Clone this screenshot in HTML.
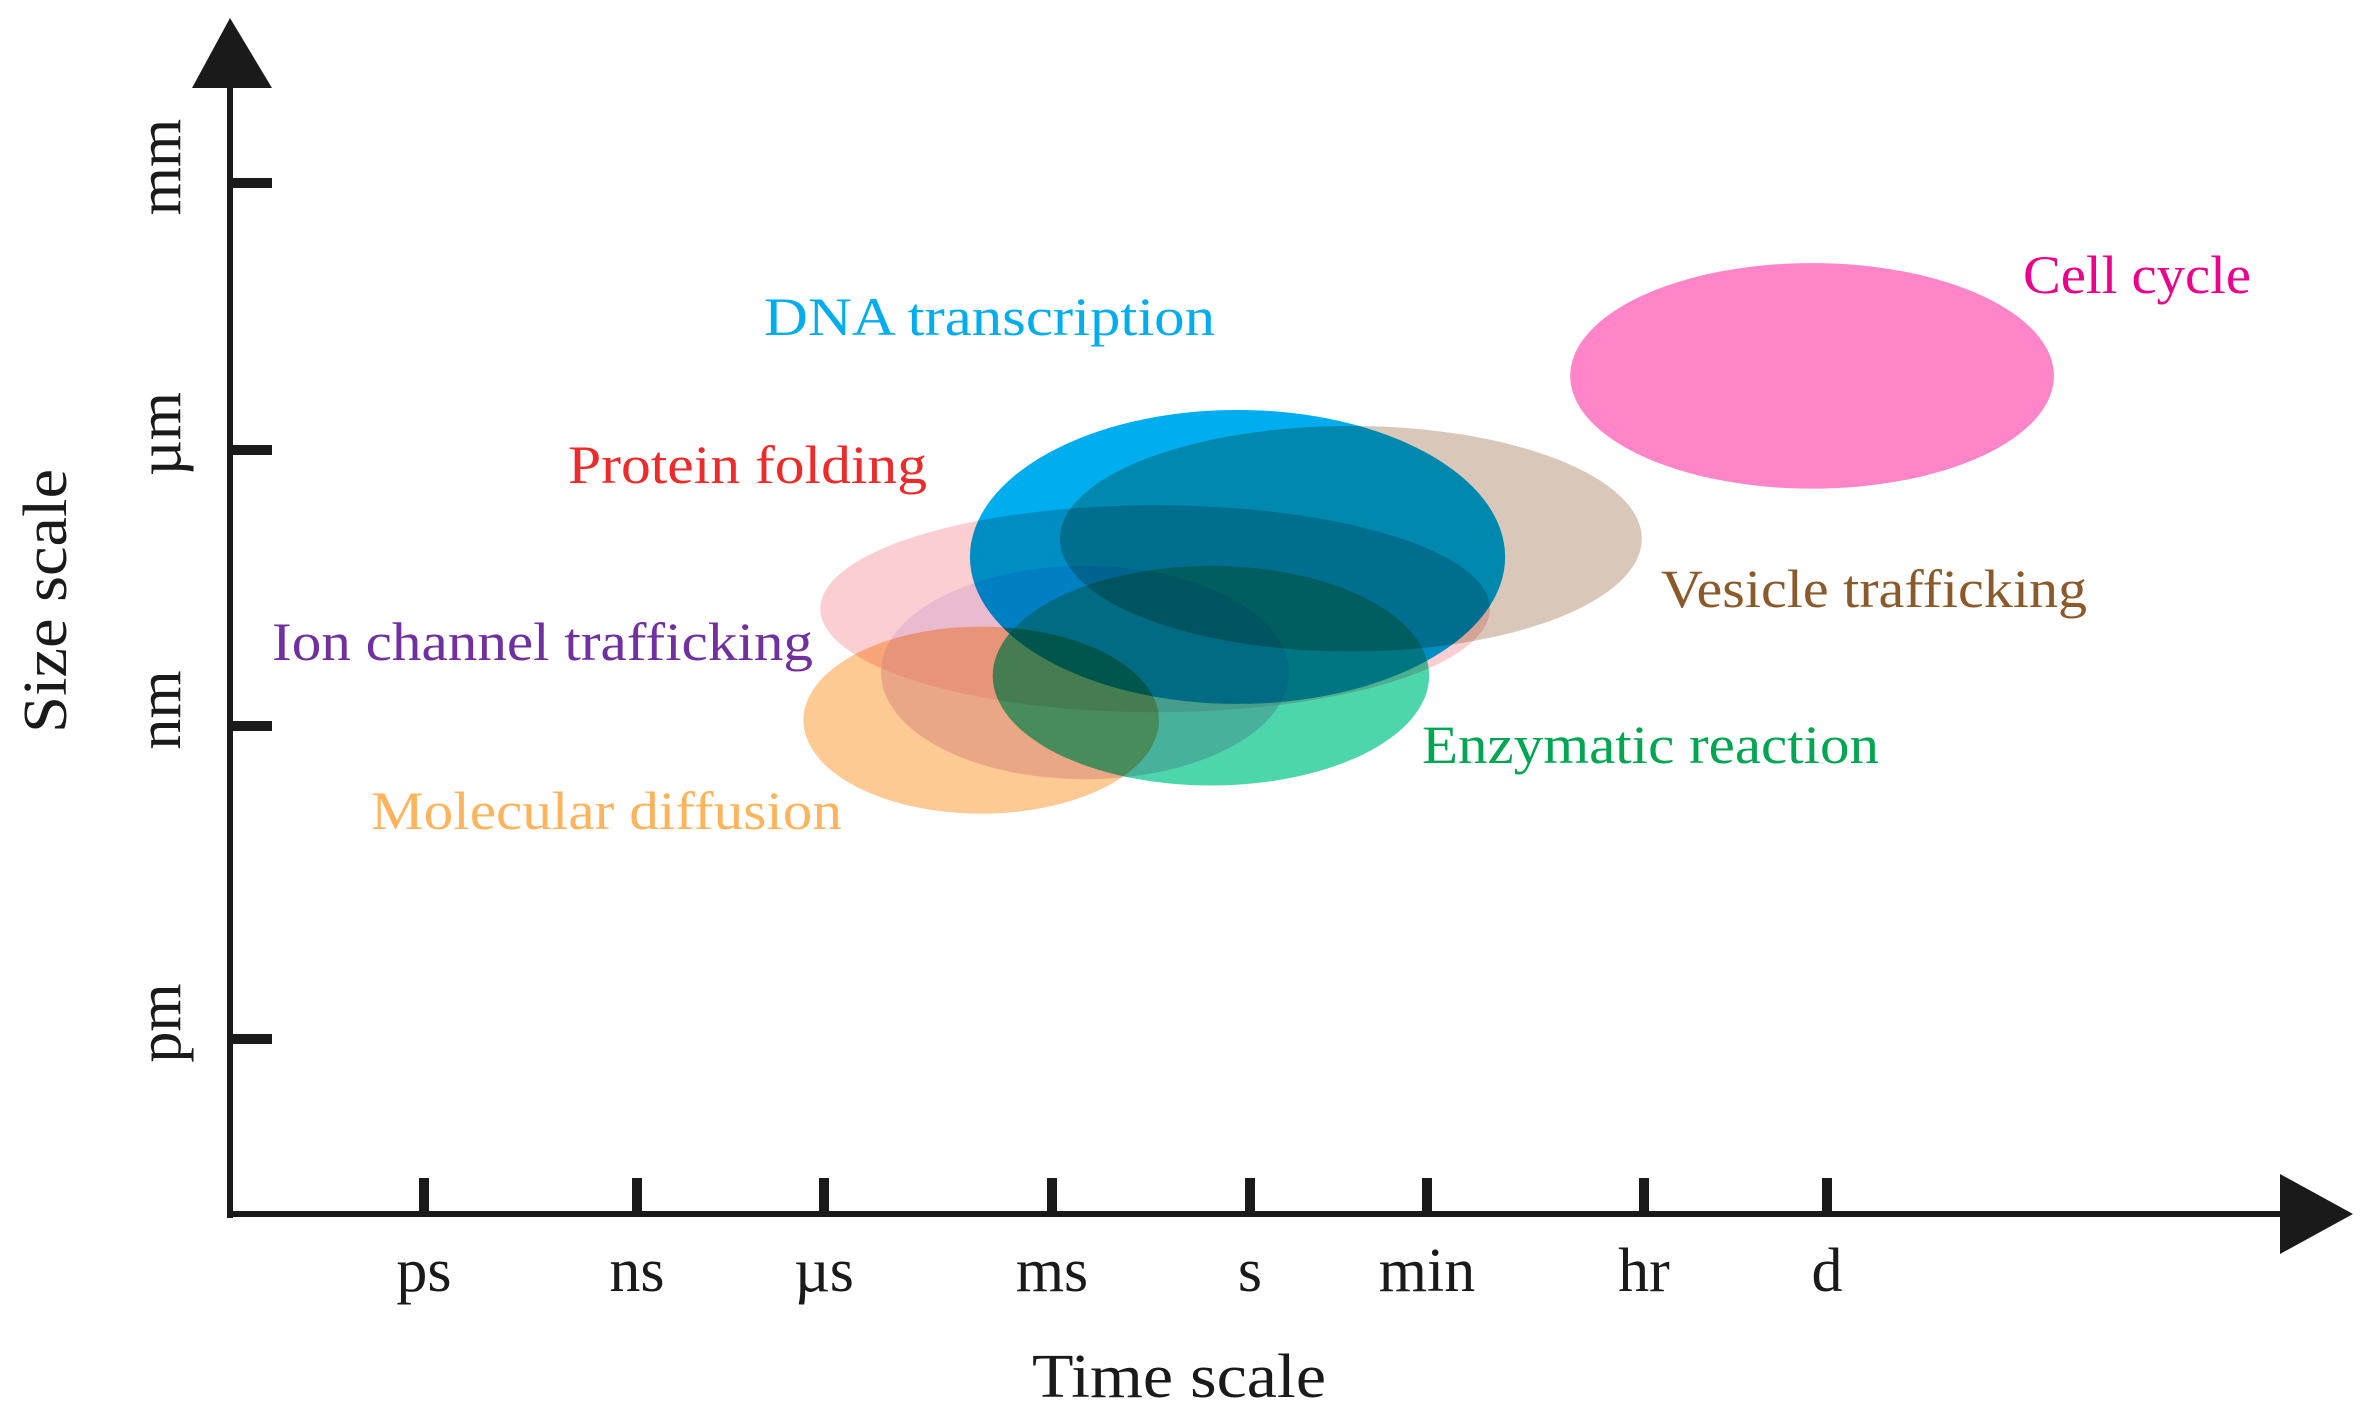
<!DOCTYPE html>
<html><head><meta charset="utf-8"><style>
html,body{margin:0;padding:0;background:#fff;}
svg{display:block;}
text{font-family:"Liberation Serif",serif;}
</style></head><body>
<svg id="chart" width="2368" height="1419" viewBox="0 0 2368 1419" xmlns="http://www.w3.org/2000/svg">
<g id="ellipses"></g>
<g id="labels"></g>
<g id="axes">
<line x1="230" y1="80" x2="230" y2="1218" stroke="#1a1a1a" stroke-width="6"/>
<polygon points="230,18 192,88 272,88" fill="#1a1a1a"/>
<line x1="227" y1="1214" x2="2290" y2="1214" stroke="#1a1a1a" stroke-width="6"/>
<polygon points="2353,1214 2280,1174 2280,1254" fill="#1a1a1a"/>
<text x="1032" y="1397" font-size="62" textLength="294" lengthAdjust="spacingAndGlyphs" fill="#1a1a1a">Time scale</text>
<text transform="translate(66,733) rotate(-90)" font-size="62" textLength="264" lengthAdjust="spacingAndGlyphs" fill="#1a1a1a">Size scale</text>
</g>
</svg>
<script>
const xTickLabels = ["ps","ns","µs","ms","s","min","hr","d"];
const yTickLabels = ["pm","nm","µm","mm"];
const processNames = ["Protein folding","Ion channel trafficking","Molecular diffusion","DNA transcription","Enzymatic reaction","Vesicle trafficking","Cell cycle"];
// extents in axis tick units (x: ps=0..d=7, y: pm=0..mm=3)
const timeStart = [1.98, 2.25, 1.89, 2.64, 2.74, 3.04, 5.66];
const timeEnd   = [5.29, 4.22, 3.54, 5.36, 5.01, 5.99, 8.24];
const sizeLow   = [1.05, 0.83, 0.72, 1.08, 0.81, 1.27, 1.86];
const sizeHigh  = [1.80, 1.58, 1.36, 2.15, 1.58, 2.09, 2.70];

const xTickPx = [424,637,824,1052,1250,1427,1644,1827];
const yTickPx = [1039,726,450,183];
function interp(v, px){
  const n = px.length;
  let i = Math.floor(v);
  if (i < 0) i = 0;
  if (i > n-2) i = n-2;
  return px[i] + (v - i) * (px[i+1] - px[i]);
}
function xScale(v){ return interp(v, xTickPx); }
function yScale(v){ return interp(v, yTickPx); }

const NS = "http://www.w3.org/2000/svg";
const axes = document.getElementById('axes');
xTickLabels.forEach((lab,i)=>{
  const x = xScale(i);
  const t = document.createElementNS(NS,'line');
  t.setAttribute('x1',x);t.setAttribute('x2',x);t.setAttribute('y1',1178);t.setAttribute('y2',1214);
  t.setAttribute('stroke','#1a1a1a');t.setAttribute('stroke-width','10');
  
  
  axes.appendChild(t);
  const tx = document.createElementNS(NS,'text');
  tx.setAttribute('x',x);tx.setAttribute('y',1291);tx.setAttribute('font-size','62');
  tx.setAttribute('text-anchor','middle');tx.setAttribute('fill','#1a1a1a');
  tx.textContent = lab;
  
  
  axes.appendChild(tx);
});
yTickLabels.forEach((lab,i)=>{
  const y = yScale(i);
  const t = document.createElementNS(NS,'line');
  t.setAttribute('x1',230);t.setAttribute('x2',272);t.setAttribute('y1',y);t.setAttribute('y2',y);
  t.setAttribute('stroke','#1a1a1a');t.setAttribute('stroke-width','10');
  
  
  axes.appendChild(t);
  const tx = document.createElementNS(NS,'text');
  tx.setAttribute('transform','translate(180,'+(y-16)+') rotate(-90)');
  tx.setAttribute('font-size','62');tx.setAttribute('text-anchor','middle');tx.setAttribute('fill','#1a1a1a');
  tx.textContent = lab;
  
  
  axes.appendChild(tx);
});

const fills = ["#f9b6b8","#d9a8cf","#fdb870","#00aeef","#2dcf9c","#c9b09c","#ff85c8"];
const opac = [0.65,0.5,0.75,1,0.85,0.7,1];
const blend = ["normal","normal","multiply","multiply","multiply","multiply","normal"];
const labelColors = ["#ee2a2a","#7030a0","#fdb45c","#00aeef","#00a651","#8b5a2b","#ec008c"];
const labelPos = [[568,483],[272,660],[371,829],[764,335],[1422,763],[1661,607],[2023,293]];
const labelLen = [359,541,471,451,457,426,228];
const eg = document.getElementById('ellipses');
const lg = document.getElementById('labels');
processNames.forEach((name,i)=>{
  const x0 = xScale(timeStart[i]), x1 = xScale(timeEnd[i]);
  const y0 = yScale(sizeLow[i]), y1 = yScale(sizeHigh[i]);
  const e = document.createElementNS(NS,'ellipse');
  e.setAttribute('cx',(x0+x1)/2);e.setAttribute('cy',(y0+y1)/2);
  e.setAttribute('rx',Math.abs(x1-x0)/2);e.setAttribute('ry',Math.abs(y0-y1)/2);
  e.setAttribute('fill',fills[i]);e.setAttribute('opacity',opac[i]);
  e.style.mixBlendMode = blend[i];
  
  
  eg.appendChild(e);
  const t = document.createElementNS(NS,'text');
  t.setAttribute('x',labelPos[i][0]);t.setAttribute('y',labelPos[i][1]);
  t.setAttribute('font-size','54');t.setAttribute('fill',labelColors[i]);
  t.setAttribute('textLength',labelLen[i]);t.setAttribute('lengthAdjust','spacingAndGlyphs');
  t.textContent = name;
  
  
  lg.appendChild(t);
});
</script>
</body></html>
